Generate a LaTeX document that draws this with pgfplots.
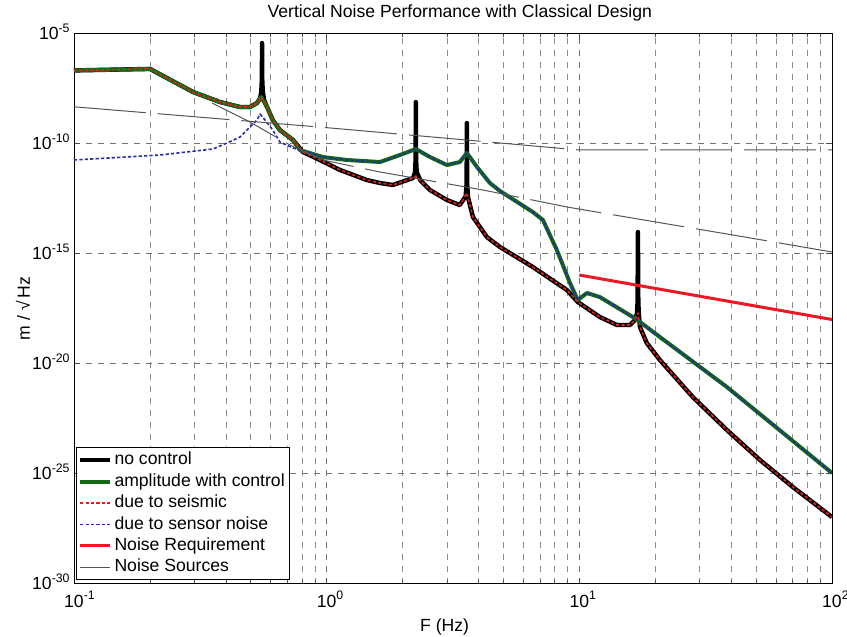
\documentclass[border=0pt]{standalone}
\usepackage{fontspec}
\setmainfont{Liberation Sans}
\usepackage{pgfplots}
\pgfplotsset{compat=1.18}
\definecolor{cgreen}{RGB}{20,105,20}
\definecolor{cred}{RGB}{235,25,35}
\definecolor{cseis}{RGB}{230,30,30}
\definecolor{cblue}{RGB}{40,40,170}
\definecolor{cgray}{RGB}{85,85,85}
\newcommand{\fs}{\fontsize{8.8}{10.6}\selectfont}
\begin{document}
\begin{tikzpicture}
\begin{axis}[
 scale only axis, width=379pt, height=275pt,
 xmode=log, ymode=log,
 xmin=0.1, xmax=100, ymin=1e-30, ymax=1e-5,
 xtick={0.1,1,10,100},
 xticklabels={10\rlap{\textsuperscript{-1}},10\rlap{\textsuperscript{0}},10\rlap{\textsuperscript{1}},10\rlap{\textsuperscript{2}}},
 minor xtick={0.2,0.3,0.4,0.5,0.6,0.7,0.8,0.9,2,3,4,5,6,7,8,9,20,30,40,50,60,70,80,90},
 ytick={1e-30,1e-25,1e-20,1e-15,1e-10,1e-5},
 yticklabels={10\textsuperscript{-30},10\textsuperscript{-25},10\textsuperscript{-20},10\textsuperscript{-15},10\textsuperscript{-10},10\textsuperscript{-5}},
 grid=both,
 major grid style={black!55, line width=0.4pt, dash pattern=on 3pt off 3pt},
 minor grid style={black!45, line width=0.4pt, dash pattern=on 3pt off 3pt},
 tick align=inside,
 major tick length=3pt, minor tick length=1.8pt,
 tick style={black!70, line width=0.4pt},
 axis line style={black, line width=0.4pt},
 ticklabel style={font=\fs},
 xticklabel style={inner sep=0pt, yshift=-3.5pt},
 yticklabel style={anchor=base east, inner sep=0pt, xshift=-1.5pt, yshift=-3.15pt},
 every axis title shift=0pt,
 title={Vertical Noise Performance with Classical Design},
 title style={font=\fs, at={(axis description cs:0.509,1.037)}, anchor=center},
 xlabel={F (Hz)},
 xlabel style={font=\fs, at={(axis description cs:0.489,-0.079)}, anchor=center},
 ylabel={m / √\,Hz},
 ylabel style={font=\fs, at={(axis description cs:-0.0673,0.5)}, anchor=center},
 legend style={at={(axis description cs:0.002,0.006)}, anchor=south west, draw=black, line width=0.4pt, fill=white, font=\fs, inner sep=1pt, row sep=0pt,
   nodes={text height=6.6pt, text depth=1.9pt, inner sep=1.1pt}},
 legend cell align=left,
 legend image code/.code={\draw[#1] (0pt,0pt) -- (15pt,0pt);},
 every axis plot/.append style={line join=round},
]
% no control
\addplot[black, line width=2.2pt] coordinates {
(0.1,2.1e-7)(0.2,2.45e-7)(0.296,2.19e-8)(0.378,7.69e-9)(0.454,4.56e-9)(0.497,4.56e-9)(0.530,6.93e-9)
(0.545,1.1e-8)(0.551,2.2e-8)(0.554,8e-8)(0.555,3.7e-6)(0.556,8e-8)(0.559,2.2e-8)(0.566,9e-9)
(0.581,4.56e-9)(0.612,1.17e-9)(0.653,4.11e-10)(0.736,1.44e-10)(0.805,4.11e-11)(0.940,1.78e-11)
(1.130,6.24e-12)(1.442,2.19e-12)(1.626,1.60e-12)(1.828,1.30e-12)(2.198,2.70e-12)
(2.238,5e-12)(2.249,2e-11)(2.254,7.69e-9)(2.259,2e-11)(2.272,5e-12)
(2.35,2.10e-12)(2.564,7.69e-13)(2.992,2.70e-13)(3.365,1.60e-13)
(3.55,4e-13)(3.580,1.5e-12)(3.589,8.55e-10)(3.598,1.5e-12)(3.625,4e-13)
(3.64,3.0e-13)(3.793,4.56e-14)(4.305,5.62e-15)(4.853,1.97e-15)(6.546,2.43e-16)(8.93,2.19e-17)
(9.86,6.24e-18)(12.05,1.30e-18)(14.09,5.62e-19)(15.85,5.62e-19)(16.60,9.49e-19)
(16.90,1.8e-18)(17.00,6e-18)(17.06,9.49e-15)(17.12,6e-18)(17.22,1.5e-18)
(17.38,4.56e-19)(18.49,8.55e-20)(20.84,1.44e-20)(28.12,3.00e-22)(38.37,9.49e-24)
(51.88,4.11e-25)(69.98,2.43e-26)(100,1.05e-27)
};
\addlegendentry{no control}
% amplitude with control
\addplot[cgreen, line width=2pt] coordinates {
(0.1,2.1e-7)(0.2,2.45e-7)(0.296,2.19e-8)(0.378,7.69e-9)(0.454,4.56e-9)(0.497,4.56e-9)(0.530,6.93e-9)
(0.550,1.30e-8)(0.581,4.56e-9)(0.612,1.17e-9)(0.653,4.11e-10)(0.736,1.44e-10)
(0.783,5.07e-11)(0.966,2.43e-11)(1.202,1.78e-11)(1.626,1.44e-11)(1.950,3.00e-11)(2.254,5.62e-11)
(2.564,2.43e-11)(2.992,1.05e-11)(3.365,1.44e-11)(3.589,3.70e-11)(3.936,8.55e-12)(4.426,1.60e-12)
(4.853,6.93e-13)(6.546,7.69e-14)(7.178,3.33e-14)(8.147,1.44e-15)(9.183,4.56e-17)(9.86,7.69e-18)
(10.72,1.60e-17)(12.05,1.05e-17)(16.29,1.30e-18)(17.38,7.69e-19)(20.84,1.60e-19)(38.37,8.55e-22)
(100,1.05e-25)
};
\addlegendentry{amplitude with control}
% due to seismic
\addplot[cseis, line width=0.8pt, dash pattern=on 1.6pt off 1.1pt] coordinates {
(0.1,2.1e-7)(0.2,2.45e-7)(0.296,2.19e-8)(0.378,7.69e-9)(0.454,4.56e-9)(0.497,4.56e-9)(0.530,6.93e-9)
(0.550,1.30e-8)(0.581,4.56e-9)(0.612,1.17e-9)(0.653,4.11e-10)(0.736,1.44e-10)(0.805,4.11e-11)
(0.940,1.78e-11)(1.130,6.24e-12)(1.442,2.19e-12)(1.626,1.60e-12)(1.828,1.30e-12)(2.198,2.70e-12)
(2.254,3.33e-12)(2.35,2.10e-12)(2.564,7.69e-13)(2.992,2.70e-13)(3.365,1.60e-13)(3.589,5.62e-13)
(3.64,3.0e-13)(3.793,4.56e-14)(4.305,5.62e-15)(4.853,1.97e-15)(6.546,2.43e-16)(8.93,2.19e-17)
(9.86,6.24e-18)(12.05,1.30e-18)(14.09,5.62e-19)(15.85,5.62e-19)(16.60,9.49e-19)(17.06,1.97e-18)
(17.38,4.56e-19)(18.49,8.55e-20)(20.84,1.44e-20)(28.12,3.00e-22)(38.37,9.49e-24)(51.88,4.11e-25)
(69.98,2.43e-26)(100,1.05e-27)
};
\addlegendentry{due to seismic}
% due to sensor noise
\addplot[cblue, line width=0.8pt, dash pattern=on 1.6pt off 1.1pt] coordinates {
(0.1,1.78e-11)(0.219,3.00e-11)(0.355,5.62e-11)(0.403,1.05e-10)(0.454,1.97e-10)(0.497,5.62e-10)
(0.530,1.17e-9)(0.545,2.19e-9)(0.570,1.17e-9)(0.612,4.11e-10)(0.653,1.17e-10)(0.736,6.24e-11)
(0.836,4.11e-11)(0.966,2.43e-11)(1.202,1.78e-11)(1.626,1.44e-11)(1.950,3.00e-11)(2.254,5.62e-11)
(2.564,2.43e-11)(2.992,1.05e-11)(3.365,1.44e-11)(3.589,3.70e-11)(3.936,8.55e-12)(4.426,1.60e-12)
(4.853,6.93e-13)(6.546,7.69e-14)(7.178,3.33e-14)(8.147,1.44e-15)(9.183,4.56e-17)(9.86,7.69e-18)
(10.72,1.60e-17)(12.05,1.05e-17)(16.29,1.30e-18)(17.38,7.69e-19)(20.84,1.60e-19)(38.37,8.55e-22)
(100,1.05e-25)
};
\addlegendentry{due to sensor noise}
% requirement
\addplot[cred, line width=1.5pt] coordinates {(10,1.05e-16)(100,1.0e-18)};
\addlegendentry{Noise Requirement}
% noise sources
\addplot[cgray, line width=0.5pt, dash pattern=on 36pt off 6pt] coordinates {
(0.1,4.67e-9)(1,5.25e-10)(10,5.07e-11)(100,5.07e-11)};
\addlegendentry{Noise Sources}
\addplot[cgray, line width=0.5pt, dash pattern=on 36pt off 6pt, forget plot] coordinates {
(0.352,6.93e-9)(0.497,9.49e-10)(0.716,8.55e-11)(0.966,1.78e-11)(1.626,5.07e-12)(4.159,7.69e-13)
(8.93,1.30e-13)(40.55,6.93e-15)(100,1.17e-15)};
\end{axis}
\pgfresetboundingbox
\path[use as bounding box] ([xshift=-37pt,yshift=-26.75pt]current axis.south west) rectangle ([xshift=7.5pt,yshift=16.75pt]current axis.north east);
\end{tikzpicture}
\end{document}
